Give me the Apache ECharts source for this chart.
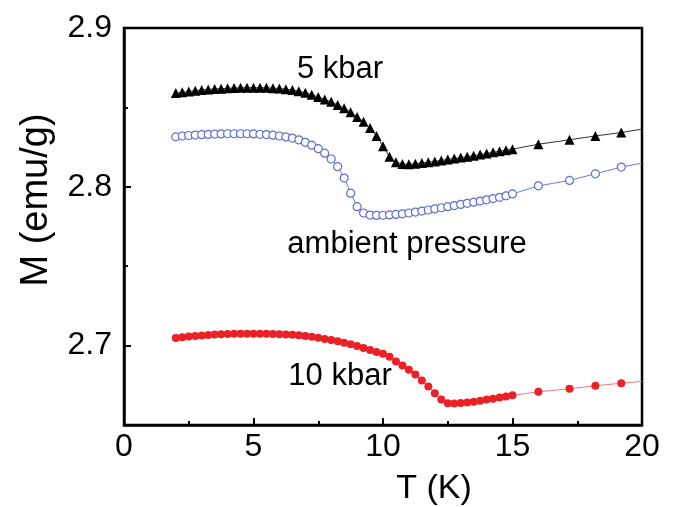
<!DOCTYPE html>
<html>
<head>
<meta charset="utf-8">
<title>M vs T</title>
<script src="https://cdn.jsdelivr.net/npm/echarts@6/dist/echarts.min.js"></script>
<style>
  html, body { margin: 0; padding: 0; background: #fff; }
  #chart { width: 675px; height: 507px; }
</style>
</head>
<body>
<div id="chart"></div>
<script>
// temperatures (K): dense sweep 2-15 K, then sparse points above 15 K
const temps = [
  2.00, 2.25, 2.50, 2.75, 3.00, 3.25, 3.50, 3.75, 4.00, 4.25, 4.50, 4.75,
  5.00, 5.25, 5.50, 5.75, 6.00, 6.25, 6.50, 6.75, 7.00, 7.25, 7.50, 7.75,
  8.00, 8.25, 8.50, 8.75, 9.00, 9.25, 9.50, 9.75, 10.00, 10.25, 10.50, 10.75,
  11.00, 11.25, 11.50, 11.75, 12.00, 12.25, 12.50, 12.75, 13.00, 13.25, 13.50, 13.75,
  14.00, 14.25, 14.50, 14.75, 15.00,
  16.0, 17.2, 18.2, 19.2
]

const m5kbar = [
  2.8590, 2.8595, 2.8600, 2.8605, 2.8610, 2.8613, 2.8616, 2.8618, 2.8620, 2.8622, 2.8623, 2.8624,
  2.8624, 2.8624, 2.8623, 2.8621, 2.8619, 2.8615, 2.8610, 2.8602, 2.8592, 2.8580, 2.8565, 2.8550,
  2.8535, 2.8515, 2.8495, 2.8470, 2.8440, 2.8410, 2.8370, 2.8320, 2.8255, 2.8190, 2.8155, 2.8143,
  2.8142, 2.8145, 2.8150, 2.8155, 2.8160, 2.8166, 2.8172, 2.8178, 2.8184, 2.8190, 2.8196, 2.8203,
  2.8210, 2.8217, 2.8224, 2.8230, 2.8237,
  2.8268, 2.8296, 2.8320, 2.8342
]

const mAmbient = [
  2.8315, 2.8320, 2.8323, 2.8326, 2.8328, 2.8330, 2.8332, 2.8333, 2.8334, 2.8334, 2.8334, 2.8334,
  2.8333, 2.8331, 2.8329, 2.8325, 2.8320, 2.8314, 2.8307, 2.8296, 2.8280, 2.8262, 2.8240, 2.8212,
  2.8175, 2.8127, 2.8055, 2.7960, 2.7875, 2.7835, 2.7822, 2.7820, 2.7821, 2.7823, 2.7826, 2.7830,
  2.7835, 2.7841, 2.7847, 2.7854, 2.7861, 2.7868, 2.7875, 2.7882, 2.7889, 2.7896, 2.7903, 2.7910,
  2.7918, 2.7926, 2.7934, 2.7943, 2.7955,
  2.8006, 2.8040, 2.8082, 2.8124
]

const m10kbar = [
  2.7048, 2.7053, 2.7057, 2.7061, 2.7064, 2.7067, 2.7070, 2.7072, 2.7073, 2.7074, 2.7075, 2.7075,
  2.7075, 2.7075, 2.7074, 2.7073, 2.7072, 2.7070, 2.7068, 2.7065, 2.7061, 2.7056, 2.7050, 2.7042,
  2.7035, 2.7027, 2.7018, 2.7008, 2.6997, 2.6985, 2.6972, 2.6960, 2.6948, 2.6930, 2.6900, 2.6875,
  2.6848, 2.6818, 2.6780, 2.6742, 2.6700, 2.6660, 2.6637, 2.6635, 2.6638, 2.6642, 2.6647, 2.6653,
  2.6660, 2.6666, 2.6673, 2.6680, 2.6687,
  2.6709, 2.6728, 2.6747, 2.6763
]

// where each guide line leaves the frame at T = 20 K
const edgeT = 20
const edge5kbar = 2.8363
const edgeAmbient = 2.8149
const edge10kbar = 2.6775

const xTicks = [0, 5, 10, 15, 20]
const yTickLabels = [2.7, 2.8, 2.9]
const yMinorTicks = [2.75, 2.85]

// curve labels, placed in data coordinates
const annotations = [
  [8.34, 2.8736, '5 kbar'],
  [10.93, 2.7635, 'ambient pressure'],
  [8.34, 2.6805, '10 kbar']
]

const FONT = "'Liberation Sans', Arial, Helvetica, sans-serif"

function buildData(values, edgeVal) {
  const d = temps.map((t, i) => [t, values[i]])
  d.push({ value: [edgeT, edgeVal], symbol: 'none', symbolSize: 0 })
  return d
}

const chart = echarts.init(document.getElementById('chart'), null, { renderer: 'canvas' })

chart.setOption({
  animation: false,
  backgroundColor: '#fff',
  textStyle: { fontFamily: FONT },
  grid: {
    left: 124,
    right: 33,
    top: 28,
    bottom: 82,
    show: true,
    borderColor: '#000',
    borderWidth: 2.5,
    backgroundColor: 'transparent'
  },
  xAxis: {
    type: 'value',
    min: xTicks[0],
    max: xTicks[xTicks.length - 1],
    interval: 5,
    axisLine: { lineStyle: { color: '#000', width: 2.5 } },
    axisTick: { inside: true, length: 7, lineStyle: { color: '#000', width: 2 } },
    minorTick: { show: true, splitNumber: 2, length: 4, lineStyle: { color: '#000', width: 2 } },
    axisLabel: { color: '#000', fontSize: 32, fontFamily: FONT, margin: 6 },
    splitLine: { show: false },
    minorSplitLine: { show: false }
  },
  yAxis: [
    {
      type: 'value',
      min: 2.65,
      max: 2.9,
      axisLine: { lineStyle: { color: '#000', width: 2.5 } },
      axisTick: {
        inside: true,
        length: 7,
        customValues: yTickLabels,
        lineStyle: { color: '#000', width: 2 }
      },
      axisLabel: {
        color: '#000',
        fontSize: 32,
        fontFamily: FONT,
        margin: 12,
        customValues: yTickLabels,
        formatter: v => v.toFixed(1)
      },
      splitLine: { show: false }
    },
    {
      type: 'value',
      min: 2.65,
      max: 2.9,
      position: 'left',
      axisLine: { show: false },
      axisTick: {
        inside: true,
        length: 4,
        customValues: yMinorTicks,
        lineStyle: { color: '#000', width: 2 }
      },
      axisLabel: { show: false },
      splitLine: { show: false }
    }
  ],
  series: [
    {
      name: '5 kbar',
      type: 'line',
      data: buildData(m5kbar, edge5kbar),
      symbol: 'triangle',
      symbolSize: 10,
      itemStyle: { color: '#000' },
      lineStyle: { color: '#333', width: 1 },
      z: 3
    },
    {
      name: 'ambient pressure',
      type: 'line',
      data: buildData(mAmbient, edgeAmbient),
      symbol: 'circle',
      symbolSize: 8,
      itemStyle: { color: '#fff', borderColor: '#5f6fcc', borderWidth: 1.2 },
      lineStyle: { color: '#6f7cd2', width: 1 },
      z: 3
    },
    {
      name: '10 kbar',
      type: 'line',
      data: buildData(m10kbar, edge10kbar),
      symbol: 'circle',
      symbolSize: 8,
      itemStyle: { color: '#ea2228' },
      lineStyle: { color: '#f07a7a', width: 1 },
      z: 3
    },
    {
      name: 'labels',
      type: 'scatter',
      silent: true,
      symbolSize: 0,
      itemStyle: { opacity: 1 },
      data: annotations,
      label: {
        show: true,
        position: 'inside',
        formatter: p => p.data[2],
        color: '#000',
        opacity: 1,
        fontSize: 31,
        fontFamily: FONT
      },
      z: 5
    }
  ],
  graphic: [
    {
      type: 'text',
      x: 37,
      y: 200,
      rotation: Math.PI / 2,
      style: {
        text: 'M (emu/g)',
        x: 0,
        y: 0,
        align: 'center',
        verticalAlign: 'middle',
        fill: '#000',
        font: '38px ' + FONT
      }
    },
    {
      type: 'text',
      x: 434,
      y: 489,
      style: {
        text: 'T (K)',
        x: 0,
        y: 0,
        align: 'center',
        verticalAlign: 'middle',
        fill: '#000',
        font: '34px ' + FONT
      }
    }
  ]
})
</script>
</body>
</html>
